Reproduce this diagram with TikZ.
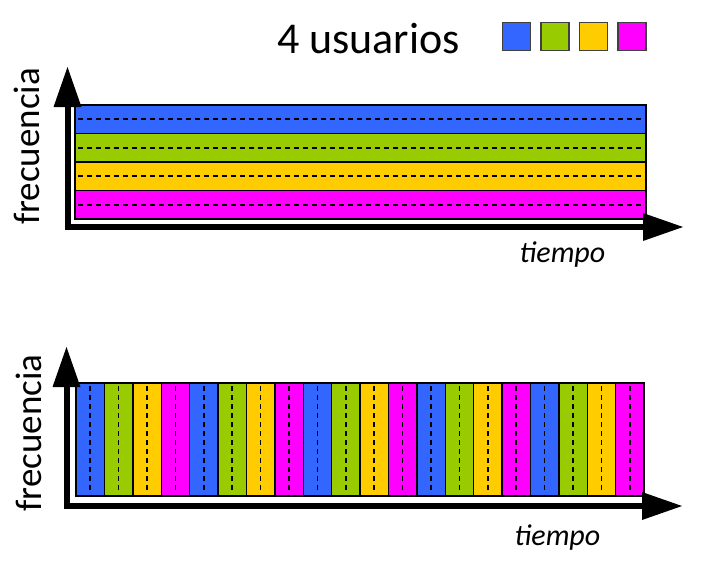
\documentclass[tikz,border=0pt]{standalone}
\usepackage{fontspec}
\setmainfont{Carlito}
\usetikzlibrary{arrows.meta,positioning}

\definecolor{cblue}{HTML}{3366FF}
\definecolor{cgreen}{HTML}{99CC00}
\definecolor{cyellow}{HTML}{FFCC00}
\definecolor{cmagenta}{HTML}{FF00FF}

\begin{document}
\begin{tikzpicture}[x=1pt, y=-1pt]
\tikzset{
  axis/.style={line width=6pt, draw=black,
    {Triangle[length=40pt,width=28pt,line width=0pt]}-{Triangle[length=40pt,width=28pt,line width=0pt]}},
  band/.style={draw=black, line width=1.4pt},
  mid/.style={dash pattern=on 5pt off 4pt, line width=1.7pt, draw=black},
  key/.style={rectangle, draw=black!75, line width=1.5pt, minimum size=28pt, inner sep=0pt},
  axlabel/.style={font=\fontsize{37}{40}\selectfont, inner sep=0pt},
  tlabel/.style={font=\fontsize{30}{32}\selectfont\itshape, inner sep=0pt}
}
\useasboundingbox (0,0) rectangle (707,566);

% legend
\node[font=\fontsize{44}{46}\selectfont, inner sep=0pt, anchor=base west] (title) at (277,53) {4 usuarios};
\node[key, fill=cblue] (kblue) at (516.5,36.5) {};
\node[key, fill=cgreen, right=9pt of kblue] (kgreen) {};
\node[key, fill=cyellow, right=9pt of kgreen] (kyellow) {};
\node[key, fill=cmagenta, right=9pt of kyellow] (kmagenta) {};

% frequency division
\foreach \c [count=\i from 0] in {cblue,cgreen,cyellow,cmagenta} {
  \filldraw[band, fill=\c] (75,{105+28.5*\i}) rectangle (646,{105+28.5*(\i+1)});
  \draw[mid] (78,{119.25+28.5*\i}) -- (643,{119.25+28.5*\i});
}
\coordinate (oA) at (67.5,227);
\coordinate (yA) at (67.5,67);
\coordinate (xA) at (683,227);
\draw[axis] (yA) -- (oA) -- (xA);
\node[axlabel, rotate=90] (freqA) at (27,146.5) {frecuencia};
\node[tlabel, anchor=base] (timeA) at (562.5,262) {tiempo};

% time division
\foreach \j in {0,...,4} {
  \foreach \c [count=\i from 0] in {cblue,cgreen,cyellow,cmagenta} {
    \filldraw[band, fill=\c] ({76+28.4*(4*\j+\i)},383) rectangle ({76+28.4*(4*\j+\i+1)},496);
    \draw[mid] ({90.2+28.4*(4*\j+\i)},386) -- ({90.2+28.4*(4*\j+\i)},493);
  }
}
\coordinate (oB) at (66.5,506);
\coordinate (yB) at (66.5,347);
\coordinate (xB) at (682,506);
\draw[axis] (yB) -- (oB) -- (xB);
\node[axlabel, rotate=90] (freqB) at (28.5,433) {frecuencia};
\node[tlabel, anchor=base] (timeB) at (557.5,545) {tiempo};
\end{tikzpicture}
\end{document}
